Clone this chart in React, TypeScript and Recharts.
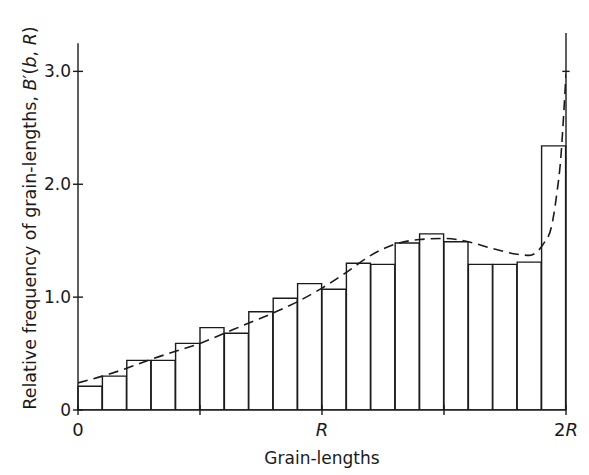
import { Bar, ComposedChart, Line, ReferenceLine, XAxis, YAxis } from "recharts";

// histogram bins, each 0.1R wide, from 0 to 2R
const binLabels = [
  "0.0", "0.1", "0.2", "0.3", "0.4", "0.5", "0.6", "0.7", "0.8", "0.9",
  "1.0", "1.1", "1.2", "1.3", "1.4", "1.5", "1.6", "1.7", "1.8", "1.9",
];
const frequency = [
  0.21, 0.3, 0.44, 0.44, 0.59, 0.73, 0.68, 0.87, 0.99, 1.12,
  1.07, 1.3, 1.29, 1.48, 1.56, 1.49, 1.29, 1.29, 1.31, 2.34,
];

// theoretical B'(b, R), b in units of R
const curveX = [
  0, 0.1, 0.2, 0.3, 0.4, 0.5, 0.6, 0.7, 0.8, 0.9, 1.0, 1.1, 1.2, 1.3, 1.4,
  1.5, 1.6, 1.7, 1.8, 1.85, 1.88, 1.91, 1.94, 1.96, 1.98, 1.99, 2.0,
];
const curveY = [
  0.24, 0.3, 0.37, 0.45, 0.52, 0.59, 0.68, 0.77, 0.86, 0.96, 1.08, 1.22, 1.37,
  1.47, 1.51, 1.52, 1.49, 1.43, 1.38, 1.37, 1.4, 1.48, 1.62, 1.88, 2.27, 2.6,
  2.98,
];

const xTicks = [0, 0.5, 1, 1.5, 2];
const xTickLabels = ["0", "", "R", "", "2R"];
const yTicks = [0, 1, 2, 3];
const yTickLabels = ["0", "1.0", "2.0", "3.0"];

const INK = "#1a1a1a";
const FONT = "'DejaVu Sans', sans-serif";

const histogram = binLabels.map((bin, i) => ({ bin, freq: frequency[i] }));
const curve = curveX.map((x, i) => ({ x, y: curveY[i] }));

// letters are set in italic, digits upright
function Lettering({ text }: { text: string }) {
  return (
    <>
      {text.split("").map((ch, i) => (
        <tspan key={i} fontStyle={/[A-Za-z]/.test(ch) ? "italic" : "normal"}>
          {ch}
        </tspan>
      ))}
    </>
  );
}

function XTick(props: any) {
  const { x, y, payload } = props;
  const label = xTickLabels[xTicks.indexOf(payload.value)];
  return (
    <g>
      <line x1={x} x2={x} y1={y - 5} y2={y + 5} stroke={INK} strokeWidth={1.4} />
      {label ? (
        <text
          x={x}
          y={y + 26}
          textAnchor="middle"
          fontSize={18}
          fontFamily={FONT}
          fill={INK}
        >
          <Lettering text={label} />
        </text>
      ) : null}
    </g>
  );
}

function YTick(props: any) {
  const { x, y, payload } = props;
  const label = yTickLabels[yTicks.indexOf(payload.value)];
  return (
    <g>
      <line x1={x - 5} x2={x + 5} y1={y} y2={y} stroke={INK} strokeWidth={1.4} />
      <text
        x={x - 7}
        y={y + 6}
        textAnchor="end"
        fontSize={17}
        fontFamily={FONT}
        fill={INK}
      >
        {label}
      </text>
    </g>
  );
}

export default function App() {
  return (
    <div
      style={{
        position: "absolute",
        left: 0,
        top: 0,
        width: 589,
        height: 475,
        background: "#fff",
        fontFamily: FONT,
        color: INK,
      }}
    >
      <ComposedChart
        width={589}
        height={475}
        data={histogram}
        margin={{ top: 33, right: 23, bottom: 25, left: 18 }}
        barCategoryGap={0}
        barGap={0}
      >
        <XAxis xAxisId="bins" dataKey="bin" hide height={0} />
        <XAxis
          xAxisId="num"
          type="number"
          dataKey="x"
          domain={[0, 2]}
          ticks={xTicks}
          allowDataOverflow
          height={40}
          tickSize={0}
          tickMargin={0}
          tickLine={false}
          axisLine={{ stroke: INK, strokeWidth: 1.4 }}
          tick={<XTick />}
          interval={0}
        />
        <YAxis
          type="number"
          domain={[0, 3.34]}
          ticks={yTicks}
          allowDataOverflow
          width={60}
          tickSize={0}
          tickMargin={0}
          tickLine={false}
          axisLine={false}
          tick={<YTick />}
          interval={0}
        />
        <Bar
          xAxisId="bins"
          dataKey="freq"
          fill="#fff"
          stroke={INK}
          strokeWidth={1.4}
          isAnimationActive={false}
        />
        <ReferenceLine
          xAxisId="num"
          segment={[
            { x: 0, y: 0 },
            { x: 0, y: 3.25 },
          ]}
          stroke={INK}
          strokeWidth={1.4}
        />
        <ReferenceLine xAxisId="num" x={2} stroke={INK} strokeWidth={1.4} />
        <ReferenceLine
          xAxisId="num"
          segment={[
            { x: 1.985, y: 3 },
            { x: 2.015, y: 3 },
          ]}
          ifOverflow="visible"
          stroke={INK}
          strokeWidth={1.4}
        />
        <Line
          xAxisId="num"
          data={curve}
          dataKey="y"
          type="monotone"
          stroke={INK}
          strokeWidth={1.6}
          strokeDasharray="10 6"
          dot={false}
          isAnimationActive={false}
        />
      </ComposedChart>
      <div
        style={{
          position: "absolute",
          left: 30,
          top: 218,
          transform: "translate(-50%, -50%) rotate(-90deg)",
          whiteSpace: "nowrap",
          fontSize: 17.5,
        }}
      >
        Relative frequency of grain-lengths, <i>B</i>′(<i>b</i>, <i>R</i>)
      </div>
      <div
        style={{
          position: "absolute",
          left: 322,
          top: 458,
          transform: "translate(-50%, -50%)",
          whiteSpace: "nowrap",
          fontSize: 17,
        }}
      >
        Grain-lengths
      </div>
    </div>
  );
}
